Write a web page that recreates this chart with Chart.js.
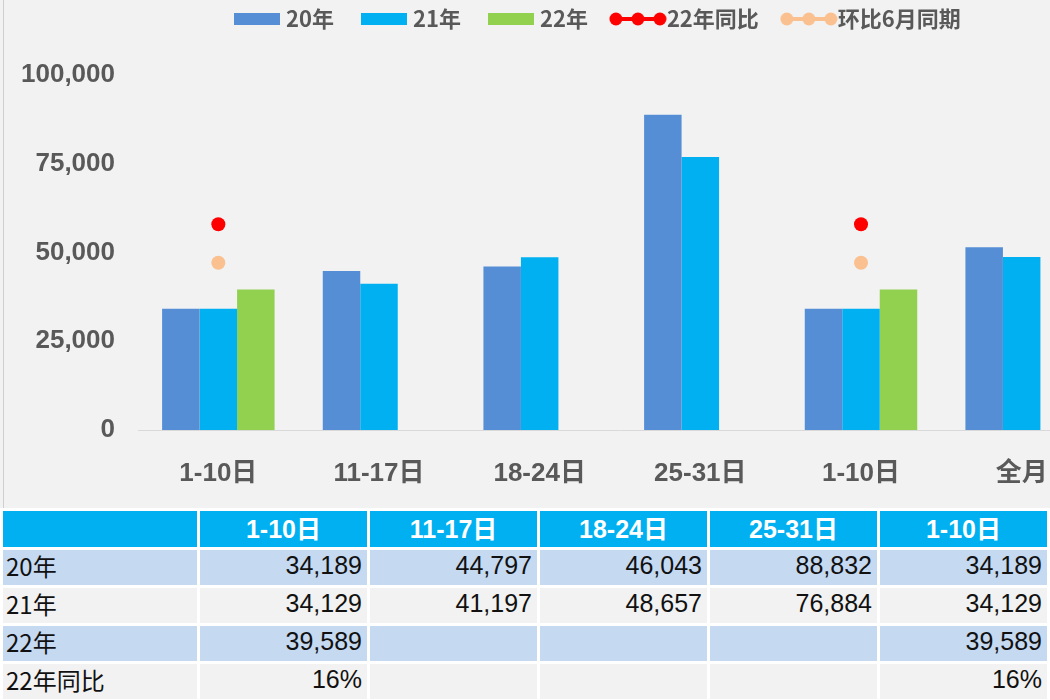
<!DOCTYPE html>
<html>
<head>
<meta charset="utf-8">
<script src="https://cdn.jsdelivr.net/npm/chart.js@4/dist/chart.umd.min.js"></script>
<style>
  html, body { margin: 0; padding: 0; background: #f2f2f2; overflow: hidden; width: 1050px; height: 700px; }
  #edge { position: absolute; left: 3px; top: 0; width: 1px; height: 509px; background: #cfcfcf; }
  #wrap { position: absolute; left: 3px; top: 0; width: 1106px; height: 505px; }
  #tbl { position: absolute; left: 0; top: 508px; border-collapse: separate; border-spacing: 3px; background: #fff; table-layout: fixed; }
  #tbl td { height: 35px; padding: 0; line-height: 35px; overflow: hidden; white-space: nowrap;
            font: 25px "Liberation Sans", "Noto Sans CJK SC", sans-serif; color: #111; }
  #tbl td span { position: relative; top: -2px; }
  #tbl tr.head td { background: #00b0f0; color: #fff; font-weight: bold; font-size: 25px; text-align: center; }
  #tbl tr.blue td { background: #c5d9f1; }
  #tbl tr.grey td { background: #f2f2f2; }
  #tbl td.lab { text-align: left; padding-left: 3px; font-family: "Noto Sans CJK SC", sans-serif; font-size: 24px; }
  #tbl td.num { text-align: right; padding-right: 5px; }
</style>
</head>
<body>
<div id="edge"></div>
<div id="wrap"><canvas id="c"></canvas></div>
<table id="tbl"></table>
<script>
// categories and values
const categories = ['1-10日', '11-17日', '18-24日', '25-31日', '1-10日', '全月'];
const y20 = [34189, 44797, 46043, 88832, 34189, 51500];
const y21 = [34129, 41197, 48657, 76884, 34129, 48700];
const y22 = [39589, null, null, null, 39589, null];
const yoy22 = [0.16, null, null, null, 0.16, null];   // 22年同比
const mom6 = [0.13, null, null, null, 0.13, null];    // 环比6月同期
const yTicks = [0, 25000, 50000, 75000, 100000];
const tableRows = [['20年', y20], ['21年', y21], ['22年', y22], ['22年同比', yoy22]];

const C20 = '#558ed5', C21 = '#00b0f0', C22 = '#92d050', CRED = '#ff0000', CORG = '#fac090';

// legend icons
function rectIcon(color) {
  const c = document.createElement('canvas');
  c.width = 46; c.height = 12;
  const g = c.getContext('2d');
  g.fillStyle = color; g.fillRect(0, 0, 46, 12);
  return c;
}
function lineIcon(color) {
  const c = document.createElement('canvas');
  c.width = 58; c.height = 14;
  const g = c.getContext('2d');
  g.strokeStyle = color; g.lineWidth = 4;
  g.beginPath(); g.moveTo(7, 7); g.lineTo(51, 7); g.stroke();
  g.fillStyle = color;
  [7, 29, 51].forEach(x => { g.beginPath(); g.arc(x, 7, 6.5, 0, Math.PI * 2); g.fill(); });
  return c;
}
const icons = [rectIcon(C20), rectIcon(C21), rectIcon(C22), lineIcon(CRED), lineIcon(CORG)];

// place the legend where the original has it
const legendPlace = {
  id: 'legendPlace',
  beforeInit(chart) {
    const fit = chart.legend.fit;
    chart.legend.fit = function () { fit.call(this); this.height = 75; };
  },
  afterLayout(chart) {
    const lg = chart.legend;
    const pad = lg.options.labels.padding;
    const w = lg.right - lg.left, h = lg.bottom - lg.top;
    lg.left = 236 - pad; lg.right = lg.left + w;
    lg.top = 8 - pad; lg.bottom = lg.top + h;
  }
};

const tickFont = { family: '"Liberation Sans", "Noto Sans CJK SC", sans-serif', size: 26, weight: 'bold' };

new Chart(document.getElementById('c'), {
  type: 'bar',
  data: {
    labels: categories,
    datasets: [
      { label: '20年', data: y20, backgroundColor: C20, yAxisID: 'y' },
      { label: '21年', data: y21, backgroundColor: C21, yAxisID: 'y' },
      { label: '22年', data: y22, backgroundColor: C22, yAxisID: 'y' },
      { type: 'line', label: '22年同比', data: yoy22, yAxisID: 'y2', borderColor: CRED, backgroundColor: CRED,
        borderWidth: 4, pointRadius: 7, pointBorderWidth: 0, spanGaps: false },
      { type: 'line', label: '环比6月同期', data: mom6, yAxisID: 'y2', borderColor: CORG, backgroundColor: CORG,
        borderWidth: 4, pointRadius: 7, pointBorderWidth: 0, spanGaps: false }
    ]
  },
  options: {
    responsive: true,
    maintainAspectRatio: false,
    animation: false,
    layout: { padding: 0 },
    datasets: { bar: { categoryPercentage: 0.7, barPercentage: 1.0 } },
    plugins: {
      tooltip: { enabled: false },
      legend: {
        position: 'top',
        align: 'start',
        labels: {
          usePointStyle: true,
          pointStyleWidth: 36,
          padding: 32,
          color: '#595959',
          font: { family: '"Noto Sans CJK SC", sans-serif', size: 22, weight: 'bold' },
          generateLabels(chart) {
            return chart.data.datasets.map((ds, i) => ({
              text: ds.label, pointStyle: icons[i], fillStyle: ds.backgroundColor,
              strokeStyle: 'transparent', lineWidth: 0, hidden: false, datasetIndex: i, fontColor: '#595959'
            }));
          }
        }
      }
    },
    scales: {
      x: {
        grid: { display: false, drawTicks: false },
        border: { display: true, color: '#d9d9d9', width: 1 },
        ticks: { color: '#595959', font: tickFont, padding: 28, maxRotation: 0, autoSkip: false },
        afterFit(s) { s.height = 75; }
      },
      y: {
        min: 0, max: 100000,
        grid: { display: false, drawTicks: false },
        border: { display: false },
        afterBuildTicks(s) { s.ticks = yTicks.map(v => ({ value: v })); },
        ticks: { color: '#595959', font: tickFont, padding: 23,
                 callback: v => v.toLocaleString('en-US') },
        afterFit(s) { s.width = 135; }
      },
      y2: { display: false, min: 0, max: 0.276 }
    }
  },
  plugins: [legendPlace]
});

// data table under the chart
const tbl = document.getElementById('tbl');
const colW = [194, 167, 167, 167, 167, 167];
let html = '<colgroup>' + colW.map(w => '<col style="width:' + w + 'px">').join('') + '</colgroup>';
html += '<tr class="head"><td></td>' + categories.slice(0, 5).map(c => '<td><span>' + c + '</span></td>').join('') + '</tr>';
tableRows.forEach((r, i) => {
  const isPct = r[0] === '22年同比';
  html += '<tr class="' + (i % 2 === 0 ? 'blue' : 'grey') + '"><td class="lab"><span>' + r[0] + '</span></td>' +
    r[1].slice(0, 5).map(v => '<td class="num"><span>' + (v == null ? '' : isPct ? Math.round(v * 100) + '%' : v.toLocaleString('en-US')) + '</span></td>').join('') + '</tr>';
});
tbl.innerHTML = html;
</script>
</body>
</html>
